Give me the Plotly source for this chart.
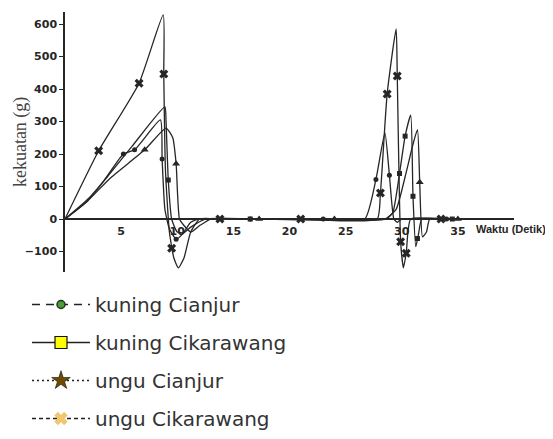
import plotly.graph_objects as go

# ---------------- data ----------------
series_names = ["kuning Cianjur", "kuning Cikarawang", "ungu Cianjur", "ungu Cikarawang"]

# kuning Cianjur (circle)
kc_t = [0, 2.0, 3.5, 5.2, 6.2, 8.5, 8.65, 8.9, 9.3, 9.9, 10.5, 11.2, 12.0, 16.5, 23.0, 26.7, 27.7, 28.5, 28.9, 29.3, 29.6, 30.0, 34.0, 37.0]
kc_v = [0, 60, 120, 200, 213, 305, 185, 30, -30, -62, -45, -10, 0, 0, 0, 0, 122, 265, 135, 0, -10, 0, 0, 0]
kc_mt = [5.2, 6.2, 8.65, 9.9, 16.5, 23.0, 27.7, 28.9, 34.0]
kc_mv = [200, 213, 185, -62, 0, 0, 122, 135, 0]

# kuning Cikarawang (square)
kk_t = [0, 2.0, 4.0, 6.0, 8.9, 9.0, 9.2, 9.5, 10.0, 10.6, 11.2, 12.5, 16.5, 28.6, 29.2, 29.8, 30.3, 30.8, 31.0, 31.25, 31.5, 31.8, 34.5, 37.0]
kk_v = [0, 55, 140, 225, 345, 300, 120, 0, -40, -42, -25, 0, 0, 0, 20, 140, 255, 320, 70, -85, -45, 0, 0, 0]
kk_mt = [9.2, 16.5, 29.8, 30.3, 31.0, 31.4, 34.5]
kk_mv = [120, 0, 140, 255, 70, -60, 0]

# ungu Cianjur (triangle)
uc_t = [0, 2.0, 4.0, 7.1, 9.0, 9.6, 9.9, 10.2, 10.6, 11.2, 12.0, 13.0, 17.3, 24.0, 28.5, 29.5, 30.3, 31.0, 31.4, 31.6, 31.85, 32.2, 32.5, 35.0, 37.0]
uc_v = [0, 55, 125, 213, 280, 250, 170, 0, -20, -40, -20, 0, 0, 0, 0, 30, 130, 230, 275, 113, -55, -40, 0, 0, 0]
uc_mt = [7.1, 9.9, 17.3, 24.0, 31.6, 35.0]
uc_mv = [213, 170, 0, 0, 113, 0]

# ungu Cikarawang (x)
uk_t = [0, 3.0, 6.6, 8.75, 8.8, 8.95, 9.3, 9.7, 10.1, 10.6, 11.2, 12.0, 13.8, 21.0, 27.8, 28.1, 28.7, 29.5, 29.6, 29.9, 30.15, 30.4, 30.8, 33.5, 37.0]
uk_v = [0, 210, 418, 628, 446, 150, -40, -120, -150, -120, -40, 0, 0, 0, 0, 80, 385, 585, 440, -70, -150, -105, 0, 0, 0]
uk_mt = [3.0, 6.6, 8.8, 9.5, 13.8, 21.0, 28.1, 28.7, 29.6, 29.9, 30.4, 33.5]
uk_mv = [210, 418, 446, -90, 0, 0, 80, 385, 440, -70, -105, 0]

x_ticks = [5, 10, 15, 20, 25, 30, 35]
y_ticks = [-100, 0, 100, 200, 300, 400, 500, 600]
x_title = "Waktu (Detik)"
y_title = "kekuatan (g)"

# ---------------- figure ----------------
ink = "#262626"
fig = go.Figure()

lines = [(kc_t, kc_v), (kk_t, kk_v), (uc_t, uc_v), (uk_t, uk_v)]
marks = [(kc_mt, kc_mv, "circle", 5), (kk_mt, kk_mv, "square", 5),
         (uc_mt, uc_mv, "triangle-up", 7), (uk_mt, uk_mv, "x", 8)]

for (t, v) in lines:
    fig.add_trace(go.Scatter(x=t, y=v, mode="lines", showlegend=False,
                             line=dict(color=ink, width=1.3, shape="spline", smoothing=0.5),
                             hoverinfo="skip"))
for (t, v, sym, sz) in marks:
    fig.add_trace(go.Scatter(x=t, y=v, mode="markers", showlegend=False,
                             marker=dict(symbol=sym, size=sz, color=ink), hoverinfo="skip"))

legend_styles = [
    dict(dash="8px,6px", symbol="circle", size=8, color="#4f9a3c", lc="#1e3a14", lw=1.5),
    dict(dash="solid", symbol="square", size=12, color="#ffff00", lc="#111111", lw=1.2),
    dict(dash="2px,3px", symbol="star", size=14, color="#6e4b00", lc="#111111", lw=0.6),
    dict(dash="4px,3px", symbol="x", size=11, color="#f4c66c", lc="#e0a840", lw=0.5),
]
for i, (name, st) in enumerate(zip(series_names, legend_styles)):
    fig.add_trace(go.Scatter(x=[None], y=[None], name=name, mode="lines+markers",
                             legendgroup=f"g{i}",
                             line=dict(color="#222", width=1.5, dash=st["dash"]),
                             marker=dict(symbol=st["symbol"], size=st["size"], color=st["color"],
                                         line=dict(color=st["lc"], width=st["lw"]))))

fig.update_layout(
    width=545, height=431,
    margin=dict(l=57, r=39, t=4, b=167, autoexpand=False),
    paper_bgcolor="white", plot_bgcolor="white",
    showlegend=True,
    legend=dict(xref="container", yref="container", x=19 / 545, y=1 - 277 / 431,
                xanchor="left", yanchor="top", itemwidth=58, tracegroupgap=9,
                font=dict(family="DejaVu Sans", size=20, color="#333"),
                bgcolor="rgba(0,0,0,0)"),
    xaxis=dict(range=[0, 40], anchor="free", position=163 / 800,
               showgrid=False, zeroline=False, showline=True, linecolor=ink, linewidth=1.5,
               tickvals=x_ticks, ticks="", ticklabelstandoff=2,
               tickfont=dict(family="DejaVu Sans", size=11, color=ink, weight="bold")),
    yaxis=dict(range=[-163, 637], showgrid=False, zeroline=False, showline=True,
               linecolor=ink, linewidth=1.5, tickvals=y_ticks, ticks="outside",
               ticklen=4, tickcolor=ink, ticklabelstandoff=0,
               tickfont=dict(family="DejaVu Sans", size=11, color=ink, weight="bold")),
    annotations=[
        dict(text=x_title, xref="paper", yref="paper", x=(466 - 57) / 449, y=(163 - 30) / 800,
             xanchor="left", yanchor="middle", showarrow=False,
             font=dict(family="Liberation Sans", size=11, color=ink, weight="bold")),
        dict(text=y_title, xref="paper", yref="paper", x=-0.10, y=0.5,
             xanchor="center", yanchor="middle", showarrow=False, textangle=-90,
             font=dict(family="Liberation Serif", size=18, color="#444")),
    ],
)

fig.write_html("out.html")
